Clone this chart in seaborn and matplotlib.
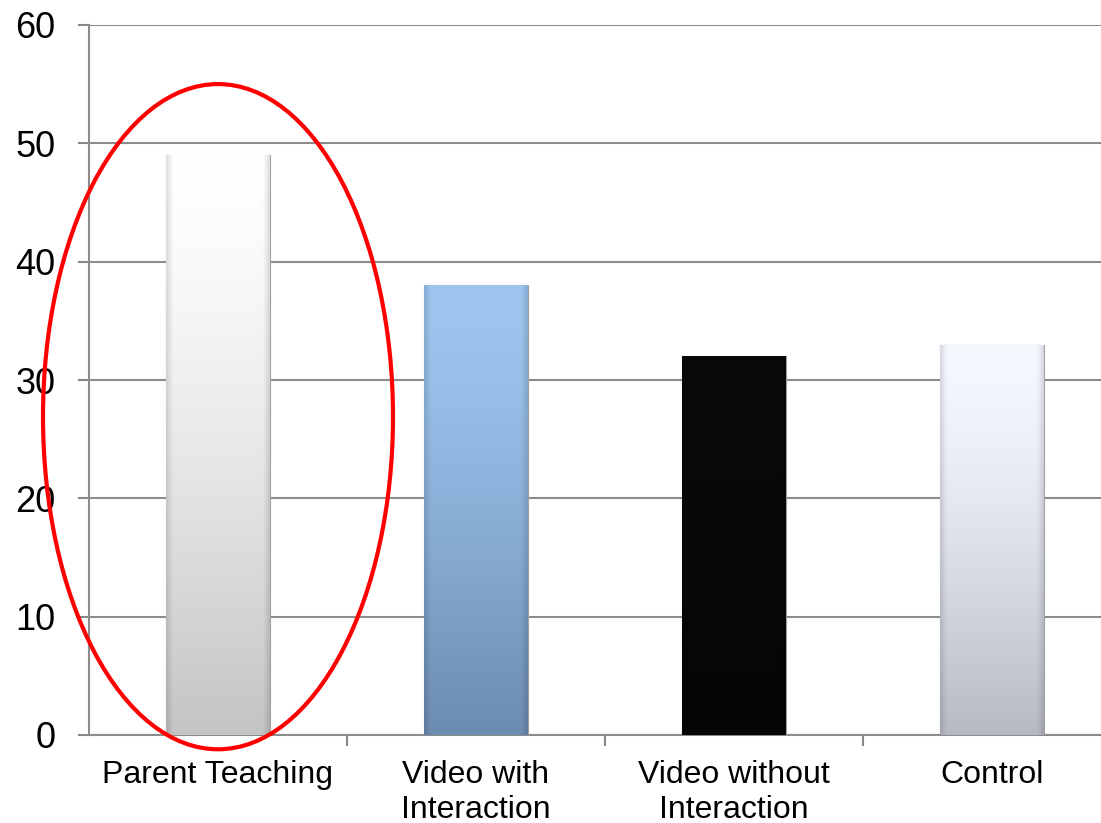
import numpy as np
import pandas as pd
import matplotlib
matplotlib.use("Agg")
import matplotlib.pyplot as plt
import seaborn as sns
from matplotlib.patches import Ellipse

categories = ["Parent Teaching", "Video with\nInteraction", "Video without\nInteraction", "Control"]
scores = [49, 38, 32, 33]
top_colors = ["#ffffff", "#9ec6f0", "#0a0a0a", "#f5f9ff"]
bottom_colors = ["#c4c4c4", "#6b8bb0", "#050505", "#b6bac4"]

df = pd.DataFrame({"group": categories, "score": scores})

sns.set_style("white")
plt.rcParams["font.family"] = ["Liberation Sans", "DejaVu Sans"]

fig = plt.figure(figsize=(11.01, 8.23), dpi=100)
ax = fig.add_axes([89 / 1101, 1 - 735 / 823, 1 - 89 / 1101, (735 - 25) / 823])

sns.barplot(data=df, x="group", y="score", color="white", width=0.4,
            edgecolor="#a0a0a0", linewidth=0.8, ax=ax, zorder=3)

def hex2rgb(h):
    return np.array(matplotlib.colors.to_rgb(h))

# gradient fill clipped to each bar
for patch, c0, c1 in zip(ax.patches, top_colors, bottom_colors):
    x0, y0 = patch.get_x(), patch.get_y()
    w, h = patch.get_width(), patch.get_height()
    t = np.linspace(0, 1, 200)[:, None, None] ** 1.4
    grad = hex2rgb(c0) * (1 - t) + hex2rgb(c1) * t
    grad = np.repeat(grad, 60, axis=1)
    u = np.linspace(0, 1, 60)
    edge = 1 - 0.12 * np.clip(1 - np.minimum(u, 1 - u) / 0.06, 0, 1)
    grad = grad * edge[None, :, None]
    im = ax.imshow(grad, extent=[x0, x0 + w, y0, y0 + h], aspect="auto",
                   origin="upper", zorder=3.5)
    im.set_clip_path(patch)

cat_w = 258
ax.set_yticks(range(0, 61, 10))
ax.set_xticks([0, 1, 2, 3])
ax.set_xticklabels(categories, fontsize=23, linespacing=1.2, color="black")
ax.tick_params(axis="y", labelsize=26, labelcolor="black", length=8, width=1.5,
               color="#888888", direction="out", pad=16, left=True)
ax.tick_params(axis="x", length=0, pad=18)
ax.set_xticks([0.5, 1.5, 2.5, 3.5], minor=True)
ax.tick_params(axis="x", which="minor", length=8, width=1.5, color="#888888",
               direction="out", bottom=True)
ax.set_xlim(-0.5, -0.5 + 1012 / cat_w)
ax.set_ylim(0, 60)
ax.yaxis.grid(True, color="#8c8c8c", linewidth=1.5, zorder=0)
ax.set_axisbelow(True)
ax.set_xlabel("")
ax.set_ylabel("")
for side in ["top", "right"]:
    ax.spines[side].set_visible(False)
for side in ["left", "bottom"]:
    ax.spines[side].set_color("#8c8c8c")
    ax.spines[side].set_linewidth(1.5)

ell = Ellipse((0, 26.9), width=350 / cat_w, height=665 / 11.83, fill=False,
              edgecolor="#ff0000", linewidth=3, zorder=5, clip_on=False)
ax.add_patch(ell)

fig.savefig("out.png", dpi=100)
